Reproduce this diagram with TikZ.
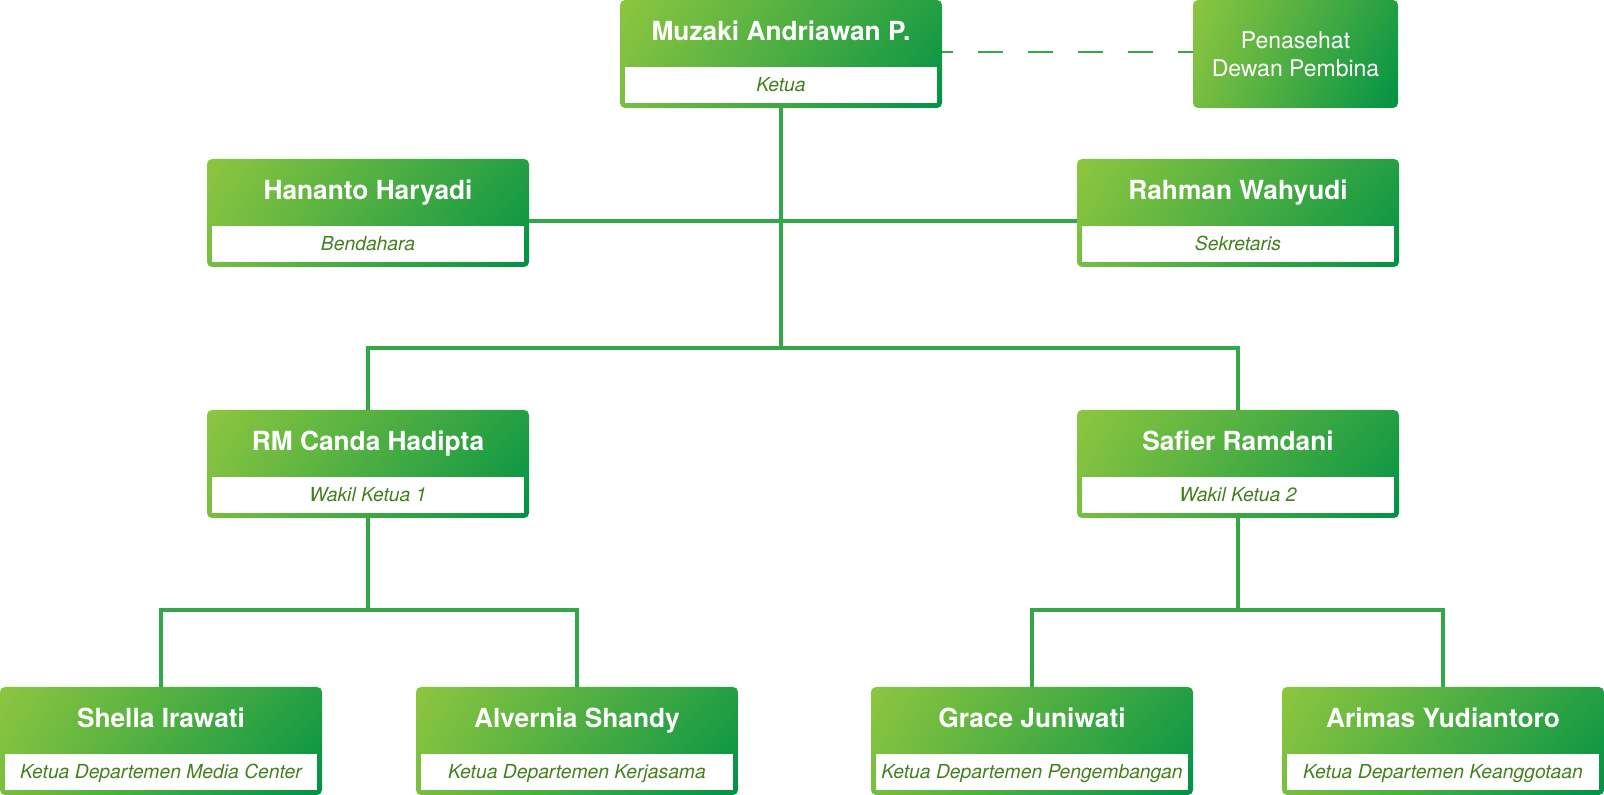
\documentclass[tikz,border=0pt]{standalone}
\usepackage{fontspec}
\setmainfont{TeX Gyre Heros}
\usetikzlibrary{shadings,calc}
\definecolor{gl}{HTML}{8DC63F}
\definecolor{gd}{HTML}{009245}
\definecolor{connc}{HTML}{34A748}
\definecolor{rolec}{HTML}{44801E}
\tikzset{
  card/.style={rectangle, rounded corners=5pt, minimum width=322pt, minimum height=108pt,
    inner sep=0pt, upper left=gl, lower right=gd, upper right=gd!75!gl, lower left=gl!85!gd},
  titletext/.style={inner sep=0pt, text=white, font=\fontsize{26.3}{31}\selectfont\bfseries,
    text height=18.9pt, text depth=0pt},
  rolebox/.style={rectangle, fill=white, minimum width=312pt, minimum height=36pt, inner sep=0pt,
    text=rolec, font=\fontsize{19.3}{23}\selectfont\itshape, text height=13.9pt, text depth=0pt},
  conn/.style={draw=connc, line width=3.2pt, line join=miter},
  dashconn/.style={draw=connc, line width=2.4pt, dash pattern=on 25pt off 25pt, dash phase=14pt}
}
\newcommand\orgcard[4]{%
  \node[card] (#1) at (#2) {};
  \node[titletext] (#1-t) at ([yshift=-31pt]#1.north) {#3};
  \node[rolebox] (#1-r) at ([yshift=-85pt]#1.north) {#4};
}
\begin{document}
\begin{tikzpicture}[x=1pt,y=1pt]
\useasboundingbox (0,0) rectangle (1604,795);
% cards
\orgcard{mz}{781,741}{Muzaki Andriawan P.}{Ketua}
\node[card, minimum width=205pt, align=center, text=white,
  font=\fontsize{23}{28}\selectfont] (pn) at (1295.5,741) {Penasehat\\Dewan Pembina};
\orgcard{hr}{368,582}{Hananto Haryadi}{Bendahara}
\orgcard{rw}{1238,582}{Rahman Wahyudi}{Sekretaris}
\orgcard{rc}{368,331}{RM Canda Hadipta}{Wakil Ketua 1}
\orgcard{sr}{1238,331}{Safier Ramdani}{Wakil Ketua 2}
\orgcard{si}{161,54}{Shella Irawati}{Ketua Departemen Media Center}
\orgcard{as}{577,54}{Alvernia Shandy}{Ketua Departemen Kerjasama}
\orgcard{gj}{1032,54}{Grace Juniwati}{Ketua Departemen Pengembangan}
\orgcard{ay}{1443,54}{Arimas Yudiantoro}{Ketua Departemen Keanggotaan}
% junctions
\coordinate (j1) at (781,447);
\coordinate (j2) at (368,185);
\coordinate (j3) at (1238,185);
% connectors
\draw[dashconn] ([yshift=2pt]mz.east) -- ([yshift=2pt]pn.west);
\draw[conn] (mz.south) -- (j1);
\draw[conn] ([yshift=-8pt]hr.east) -- ([yshift=-8pt]rw.west);
\draw[conn] (rc.north) |- (j1) -| (sr.north);
\draw[conn] (rc.south) -- (j2);
\draw[conn] (si.north) |- (j2) -| (as.north);
\draw[conn] (sr.south) -- (j3);
\draw[conn] (gj.north) |- (j3) -| (ay.north);
\end{tikzpicture}
\end{document}
